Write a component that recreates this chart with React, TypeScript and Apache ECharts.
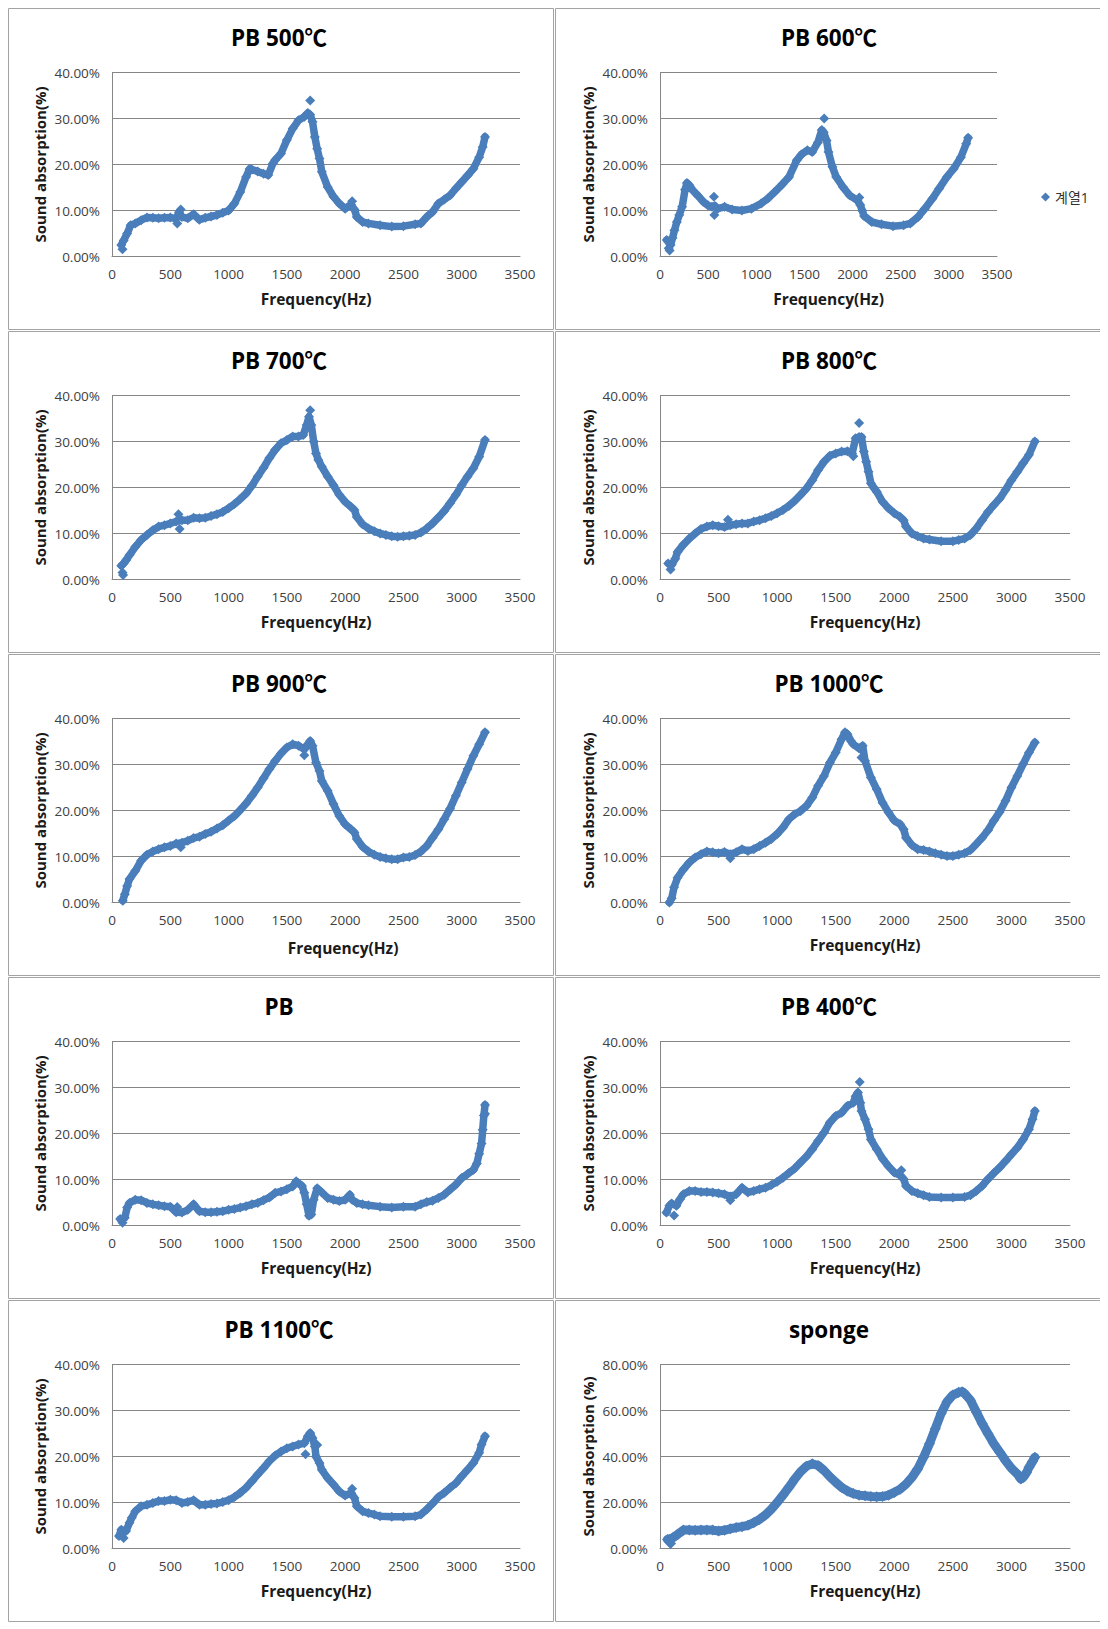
import React, { useEffect, useRef } from "react";
import * as echarts from "echarts";

// ---------- data (Hz, sound absorption %) ----------
const PB500_POINTS = [
  [80, 2.5], [100, 3.5], [130, 5.0], [160, 6.8], [200, 7.2], [250, 7.9], [300, 8.5], [350, 8.4], [400, 8.3], [450, 8.4],
  [500, 8.5], [550, 8.2], [575, 9.6], [600, 8.6], [650, 8.3], [700, 9.2], [750, 8.0], [800, 8.4], [850, 8.7], [900, 9.0],
  [950, 9.5], [1000, 10.0], [1050, 11.5], [1100, 14.0], [1150, 17.3], [1180, 19.0], [1200, 18.9], [1250, 18.5], [1300, 18.0],
  [1340, 17.7], [1380, 20.2], [1400, 21.0], [1450, 22.4], [1500, 25.3], [1550, 27.8], [1600, 29.6], [1650, 30.4], [1680, 31.2],
  [1700, 30.8], [1720, 29.3], [1740, 26.0], [1760, 23.4], [1780, 21.3], [1800, 18.4], [1850, 15.1], [1900, 13.0], [1950, 11.5],
  [2000, 10.4], [2050, 11.3], [2080, 10.2], [2100, 8.6], [2150, 7.5], [2200, 7.2], [2300, 6.8], [2400, 6.5], [2500, 6.6],
  [2600, 7.0], [2650, 7.2], [2700, 8.6], [2750, 9.7], [2800, 11.5], [2850, 12.4], [2900, 13.3], [2950, 14.8], [3000, 16.2],
  [3050, 17.6], [3100, 19.1], [3150, 21.6], [3180, 23.8], [3200, 26.0],
];
const PB500_OUTLIERS = [[90, 1.6], [560, 7.2], [590, 10.2], [1700, 33.9], [2060, 12.0]];

const PB600_POINTS = [
  [70, 3.6], [110, 2.5], [130, 4.0], [150, 5.7], [175, 7.5], [200, 9.0], [230, 10.8], [260, 14.5], [280, 16.0], [300, 15.6],
  [340, 14.4], [390, 13.3], [450, 11.9], [500, 11.1], [540, 10.8], [570, 11.0], [600, 10.4], [670, 10.8], [750, 10.2],
  [850, 10.0], [950, 10.4], [1050, 11.5], [1120, 12.6], [1190, 14.0], [1270, 15.7], [1340, 17.3], [1420, 20.9], [1470, 22.2],
  [1530, 23.1], [1580, 22.7], [1640, 24.8], [1680, 27.5], [1700, 27.0], [1730, 25.2], [1750, 22.7], [1790, 19.5],
  [1830, 17.3], [1900, 15.1], [1970, 13.3], [2050, 12.2], [2080, 11.2], [2100, 10.0], [2120, 8.8], [2200, 7.5], [2300, 7.0],
  [2420, 6.6], [2530, 6.8], [2600, 7.2], [2680, 8.6], [2750, 10.4], [2830, 12.6], [2900, 14.8], [2980, 17.3], [3050, 19.1],
  [3125, 21.6], [3180, 24.5], [3200, 25.8],
];
const PB600_OUTLIERS = [[90, 1.8], [100, 1.3], [560, 13.0], [565, 9.0], [1705, 30.0], [2070, 12.8]];

const PB700_POINTS = [
  [80, 3.0], [100, 3.5], [120, 4.2], [150, 5.3], [200, 7.1], [250, 8.6], [300, 9.7], [350, 10.7], [400, 11.5], [450, 11.8],
  [500, 12.2], [550, 12.6], [600, 12.9], [650, 12.9], [700, 13.4], [750, 13.3], [800, 13.4], [850, 13.8], [900, 14.2],
  [950, 14.7], [1000, 15.5], [1050, 16.4], [1100, 17.5], [1150, 18.7], [1200, 20.4], [1250, 22.4], [1300, 24.3], [1350, 26.4],
  [1400, 28.2], [1450, 29.6], [1500, 30.3], [1550, 31.1], [1600, 31.1], [1640, 31.4], [1670, 33.6], [1690, 35.4], [1710, 33.6],
  [1730, 30.0], [1750, 27.4], [1770, 26.0], [1800, 24.5], [1850, 22.4], [1900, 20.5], [1950, 18.4], [2000, 16.9], [2050, 15.8],
  [2080, 15.1], [2100, 13.6], [2150, 12.0], [2200, 11.1], [2250, 10.5], [2300, 10.0], [2350, 9.7], [2400, 9.4], [2450, 9.3],
  [2500, 9.4], [2550, 9.5], [2600, 9.7], [2650, 10.2], [2700, 11.1], [2750, 12.2], [2800, 13.5], [2850, 14.9], [2900, 16.6],
  [2950, 18.4], [3000, 20.5], [3050, 22.4], [3100, 24.2], [3150, 26.7], [3200, 30.3],
];
const PB700_OUTLIERS = [[90, 1.5], [95, 1.0], [570, 14.2], [580, 11.0], [1700, 36.8]];

const PB800_POINTS = [
  [70, 3.5], [100, 3.2], [130, 4.5], [150, 6.0], [200, 7.6], [250, 8.9], [300, 10.0], [350, 11.0], [400, 11.5], [450, 11.8],
  [500, 11.6], [550, 11.4], [600, 11.8], [650, 12.0], [700, 12.2], [750, 12.2], [800, 12.6], [850, 12.9], [900, 13.3],
  [950, 13.8], [1000, 14.4], [1050, 15.1], [1100, 16.0], [1150, 17.1], [1200, 18.4], [1250, 19.8], [1300, 21.6], [1350, 23.8],
  [1400, 25.6], [1450, 26.9], [1500, 27.4], [1550, 27.8], [1600, 27.9], [1640, 27.4], [1670, 30.7], [1700, 31.0], [1720, 31.0],
  [1740, 27.8], [1760, 25.6], [1780, 23.4], [1800, 20.9], [1830, 19.8], [1850, 19.1], [1900, 16.9], [1950, 15.5], [2000, 14.4],
  [2050, 13.6], [2080, 12.9], [2100, 11.5], [2150, 10.0], [2200, 9.4], [2250, 8.9], [2300, 8.7], [2400, 8.3], [2500, 8.3],
  [2550, 8.6], [2600, 8.9], [2650, 9.7], [2700, 11.1], [2750, 12.9], [2800, 14.7], [2850, 16.2], [2900, 17.6], [2950, 19.5],
  [3000, 21.6], [3050, 23.4], [3100, 25.3], [3150, 27.1], [3200, 30.0],
];
const PB800_OUTLIERS = [[90, 2.2], [580, 13.0], [1650, 26.8], [1700, 34.0]];

const PB900_POINTS = [
  [92, 0.4], [110, 1.8], [130, 3.6], [150, 5.1], [200, 6.9], [250, 9.1], [300, 10.4], [350, 11.1], [400, 11.6], [450, 12.0],
  [500, 12.3], [550, 12.8], [600, 13.0], [650, 13.4], [700, 14.0], [750, 14.3], [800, 14.9], [850, 15.4], [900, 16.1],
  [950, 16.8], [1000, 17.8], [1050, 18.8], [1100, 20.1], [1150, 21.5], [1200, 23.2], [1250, 25.0], [1300, 27.0], [1350, 29.0],
  [1400, 30.8], [1450, 32.4], [1500, 33.7], [1550, 34.4], [1600, 34.1], [1650, 33.3], [1680, 34.4], [1700, 35.1], [1720, 34.1],
  [1750, 30.4], [1780, 28.6], [1800, 26.4], [1850, 24.3], [1900, 21.4], [1950, 18.8], [2000, 17.0], [2050, 15.9], [2080, 15.2],
  [2100, 13.8], [2150, 12.1], [2200, 11.1], [2250, 10.4], [2300, 9.9], [2350, 9.6], [2400, 9.4], [2450, 9.4], [2500, 9.8],
  [2550, 9.9], [2600, 10.3], [2650, 11.1], [2700, 12.3], [2750, 14.1], [2800, 15.9], [2850, 18.1], [2900, 20.4], [2950, 23.2],
  [3000, 26.1], [3050, 29.0], [3100, 31.9], [3150, 34.4], [3200, 37.0],
];
const PB900_OUTLIERS = [[590, 12.0], [1650, 32.0]];

const PB1000_POINTS = [
  [80, 0.0], [100, 0.9], [120, 3.3], [150, 5.4], [200, 7.2], [250, 8.7], [300, 9.8], [350, 10.5], [400, 11.1], [450, 10.9],
  [500, 10.7], [550, 11.0], [600, 10.5], [650, 10.9], [700, 11.6], [750, 11.2], [800, 11.6], [850, 12.3], [900, 13.0],
  [950, 13.8], [1000, 14.9], [1050, 16.3], [1100, 18.1], [1150, 19.2], [1200, 19.9], [1250, 21.0], [1300, 22.8], [1350, 25.4],
  [1400, 27.5], [1450, 30.4], [1500, 32.6], [1550, 35.5], [1580, 37.0], [1600, 36.6], [1630, 35.1], [1650, 34.4], [1700, 33.5],
  [1730, 34.1], [1750, 30.8], [1800, 27.2], [1850, 24.6], [1900, 21.7], [1950, 19.6], [2000, 17.8], [2050, 17.0], [2080, 15.9],
  [2100, 14.1], [2150, 12.5], [2200, 11.6], [2250, 11.4], [2300, 11.1], [2350, 10.7], [2400, 10.4], [2450, 10.1], [2500, 10.1],
  [2550, 10.4], [2600, 10.7], [2650, 11.4], [2700, 12.7], [2750, 14.1], [2800, 15.7], [2850, 17.8], [2900, 19.7], [2950, 22.1],
  [3000, 25.0], [3050, 27.5], [3100, 30.1], [3150, 32.6], [3200, 34.8],
];
const PB1000_OUTLIERS = [[600, 9.6], [1720, 31.5]];

const PB_POINTS = [
  [70, 1.4], [110, 1.7], [130, 3.9], [150, 4.9], [200, 5.6], [250, 5.5], [300, 4.9], [350, 4.6], [400, 4.4], [450, 4.2],
  [500, 4.1], [550, 2.9], [600, 2.8], [650, 3.4], [700, 4.6], [750, 3.1], [800, 2.9], [850, 2.9], [900, 3.0], [950, 3.1],
  [1000, 3.4], [1050, 3.6], [1100, 3.9], [1150, 4.2], [1200, 4.6], [1250, 4.9], [1300, 5.5], [1350, 6.1], [1400, 7.1],
  [1450, 7.4], [1500, 7.9], [1550, 8.5], [1580, 9.6], [1600, 9.2], [1630, 8.6], [1650, 7.1], [1670, 4.6], [1690, 2.1],
  [1710, 2.4], [1730, 5.6], [1760, 8.1], [1800, 7.2], [1850, 6.0], [1900, 5.6], [1950, 5.3], [2000, 5.6], [2040, 6.7],
  [2060, 5.6], [2100, 4.9], [2150, 4.6], [2200, 4.4], [2300, 4.1], [2400, 3.9], [2500, 4.1], [2600, 4.1], [2650, 4.6],
  [2700, 5.1], [2750, 5.4], [2800, 6.0], [2850, 6.7], [2900, 7.8], [2950, 8.9], [3000, 10.3], [3050, 11.2], [3100, 12.1],
  [3130, 13.5], [3150, 15.6], [3170, 17.8], [3180, 20.8], [3190, 23.9], [3200, 26.2],
];
const PB_OUTLIERS = [[90, 0.6], [560, 4.0], [1700, 4.5], [3200, 24.3]];

const PB400_POINTS = [
  [55, 2.8], [80, 4.3], [100, 4.8], [140, 4.3], [170, 5.7], [200, 6.8], [250, 7.5], [300, 7.5], [350, 7.3], [400, 7.3],
  [450, 7.2], [500, 7.0], [550, 6.8], [600, 6.3], [650, 6.8], [700, 8.2], [750, 7.2], [800, 7.5], [850, 7.9], [900, 8.2],
  [950, 8.8], [1000, 9.5], [1050, 10.4], [1100, 11.4], [1150, 12.4], [1200, 13.7], [1250, 15.0], [1300, 16.6], [1350, 18.4],
  [1400, 20.2], [1450, 22.4], [1500, 23.8], [1550, 24.5], [1600, 26.0], [1650, 26.7], [1670, 28.1], [1690, 28.9], [1710, 26.7],
  [1720, 24.9], [1750, 23.1], [1780, 20.9], [1800, 18.7], [1850, 16.6], [1900, 14.5], [1950, 12.9], [2000, 11.5], [2050, 10.9],
  [2080, 10.1], [2100, 8.6], [2150, 7.5], [2200, 7.0], [2250, 6.6], [2300, 6.2], [2400, 6.1], [2500, 6.1], [2600, 6.2],
  [2650, 6.6], [2700, 7.5], [2750, 8.6], [2800, 10.1], [2850, 11.4], [2900, 12.6], [2950, 14.0], [3000, 15.5], [3050, 16.9],
  [3100, 18.7], [3150, 20.9], [3180, 23.1], [3200, 24.9],
];
const PB400_OUTLIERS = [[120, 2.2], [600, 5.5], [1705, 31.2], [2060, 12.0]];

const PB1100_POINTS = [
  [60, 2.7], [80, 4.1], [120, 3.8], [150, 5.6], [170, 6.7], [200, 8.1], [250, 9.2], [300, 9.5], [350, 9.9], [400, 10.3],
  [450, 10.3], [500, 10.6], [550, 10.5], [600, 9.9], [650, 10.1], [700, 10.5], [750, 9.5], [800, 9.5], [850, 9.7], [900, 9.8],
  [950, 10.1], [1000, 10.5], [1050, 11.2], [1100, 12.1], [1150, 13.2], [1200, 14.6], [1250, 16.1], [1300, 17.5], [1350, 19.0],
  [1400, 20.2], [1450, 21.1], [1500, 21.8], [1550, 22.2], [1600, 22.6], [1650, 22.9], [1680, 24.4], [1700, 25.1], [1720, 24.0],
  [1740, 22.2], [1750, 20.0], [1780, 18.6], [1800, 17.1], [1850, 15.3], [1900, 13.9], [1950, 12.4], [2000, 11.5], [2050, 12.1],
  [2080, 11.0], [2100, 9.2], [2150, 8.1], [2200, 7.7], [2250, 7.4], [2300, 7.0], [2400, 6.9], [2500, 6.9], [2600, 7.0],
  [2650, 7.4], [2700, 8.5], [2750, 9.8], [2800, 11.2], [2850, 12.1], [2900, 13.2], [2950, 14.2], [3000, 15.7], [3050, 17.1],
  [3100, 18.6], [3150, 20.8], [3170, 22.6], [3200, 24.4],
];
const PB1100_OUTLIERS = [[100, 2.3], [1660, 20.5], [1760, 22.5], [2060, 13.0]];

const SPONGE_POINTS = [
  [64, 3.9], [110, 4.7], [150, 6.1], [200, 8.0], [250, 8.0], [300, 7.9], [350, 8.0], [400, 8.0], [450, 8.0], [500, 7.6],
  [550, 7.9], [600, 8.6], [650, 9.1], [700, 9.5], [750, 10.1], [800, 11.2], [850, 12.7], [900, 14.6], [950, 17.1], [1000, 20.0],
  [1050, 23.2], [1100, 26.6], [1150, 30.2], [1200, 33.4], [1250, 35.8], [1300, 36.8], [1350, 36.1], [1400, 33.9], [1450, 31.2],
  [1500, 28.8], [1550, 26.6], [1600, 25.0], [1650, 23.9], [1700, 23.2], [1750, 22.9], [1800, 22.6], [1850, 22.5], [1900, 22.6],
  [1950, 23.2], [2000, 24.4], [2050, 25.8], [2100, 28.0], [2150, 30.9], [2200, 34.6], [2250, 39.7], [2300, 45.5], [2350, 52.1],
  [2400, 58.7], [2450, 63.8], [2500, 66.7], [2550, 67.9], [2580, 68.2], [2600, 67.4], [2650, 64.5], [2700, 59.4], [2750, 54.3],
  [2800, 49.9], [2850, 45.5], [2900, 41.9], [2950, 38.2], [3000, 34.9], [3050, 32.4], [3080, 30.2], [3100, 30.9], [3130, 33.1],
  [3150, 35.3], [3180, 37.8], [3200, 39.7],
];
const SPONGE_OUTLIERS = [[90, 2.2]];

const TITLES = ["PB 500℃", "PB 600℃", "PB 700℃", "PB 800℃", "PB 900℃", "PB 1000℃", "PB", "PB 400℃", "PB 1100℃", "sponge"];
const POINTS = [PB500_POINTS, PB600_POINTS, PB700_POINTS, PB800_POINTS, PB900_POINTS, PB1000_POINTS, PB_POINTS, PB400_POINTS, PB1100_POINTS, SPONGE_POINTS];
const OUTLIERS = [PB500_OUTLIERS, PB600_OUTLIERS, PB700_OUTLIERS, PB800_OUTLIERS, PB900_OUTLIERS, PB1000_OUTLIERS, PB_OUTLIERS, PB400_OUTLIERS, PB1100_OUTLIERS, SPONGE_OUTLIERS];
const Y_MAX = [40, 40, 40, 40, 40, 40, 40, 40, 40, 80];
const Y_STEP = [10, 10, 10, 10, 10, 10, 10, 10, 10, 20];
const Y_NAMES = [
  "Sound absorption(%)", "Sound absorption(%)", "Sound absorption(%)", "Sound absorption(%)", "Sound absorption(%)",
  "Sound absorption(%)", "Sound absorption(%)", "Sound absorption(%)", "Sound absorption(%)", "Sound absorption (%)",
];
const X_NAME = "Frequency(Hz)";
const X_MIN = 0;
const X_MAX = 3500;
const X_STEP = 500;
const LEGEND_LABEL = "계열1";

// ---------- styling / layout ----------
const BLUE = "#4a7ebb";
const FONT = "'Open Sans', 'Noto Sans CJK KR', sans-serif";
const PANEL_W = 546;
const PANEL_H = 322;
const LEGEND_PANEL = 1;
const SHIFTED_XNAME_PANEL = 4;

function buildOption() {
  const grid: any[] = [];
  const xAxis: any[] = [];
  const yAxis: any[] = [];
  const series: any[] = [];
  const graphic: any[] = [];

  TITLES.forEach((title, i) => {
    const col = i % 2;
    const row = Math.floor(i / 2);
    const px = col * (PANEL_W + 1);
    const py = row * (PANEL_H + 1);
    const gl = col === 0 ? 104 : 105;
    const gw = i === LEGEND_PANEL ? 337 : col === 0 ? 408 : 410;

    graphic.push({
      type: "rect",
      silent: true,
      z: -10,
      shape: { x: px + 0.5, y: py + 0.5, width: PANEL_W - 1, height: PANEL_H - 1 },
      style: { fill: "#ffffff", stroke: "#a3a3a3", lineWidth: 1 },
    });
    graphic.push({
      type: "text",
      silent: true,
      x: px + (col === 0 ? 271 : 274),
      y: py + 29,
      style: {
        text: title,
        font: `bold 22.5px ${FONT}`,
        fill: "#000000",
        textAlign: "center",
        align: "center",
        textVerticalAlign: "middle",
        verticalAlign: "middle",
      },
    });

    grid.push({ left: px + gl, top: py + 64.5, width: gw, height: 184 });

    const shifted = i === SHIFTED_XNAME_PANEL;
    xAxis.push({
      gridIndex: i,
      type: "value",
      min: X_MIN,
      max: X_MAX,
      interval: X_STEP,
      name: X_NAME,
      nameLocation: "middle",
      nameGap: shifted ? 38 : 35,
      nameTextStyle: {
        fontFamily: FONT,
        fontSize: 15.5,
        fontWeight: "bold",
        color: "#1a1a1a",
        padding: shifted ? [0, 0, 0, 54] : 0,
      },
      axisLine: { show: true, onZero: false, lineStyle: { color: "#868686", width: 1 } },
      axisTick: { show: false },
      axisLabel: {
        fontFamily: FONT,
        fontSize: 13.5,
        color: "#404040",
        margin: 11,
        formatter: (v: number) => String(v),
      },
      splitLine: { show: false },
    });
    yAxis.push({
      gridIndex: i,
      type: "value",
      min: 0,
      max: Y_MAX[i],
      interval: Y_STEP[i],
      name: Y_NAMES[i],
      nameLocation: "middle",
      nameGap: 65,
      nameTextStyle: { fontFamily: FONT, fontSize: 15, fontWeight: "bold", color: "#1a1a1a" },
      axisLine: { show: true, lineStyle: { color: "#868686", width: 1 } },
      axisTick: { show: false },
      axisLabel: {
        fontFamily: FONT,
        fontSize: 13.5,
        color: "#404040",
        margin: 12,
        formatter: (v: number) => v.toFixed(2) + "%",
      },
      splitLine: { show: true, lineStyle: { color: "#868686", width: 1 } },
    });

    series.push({
      type: "line",
      xAxisIndex: i,
      yAxisIndex: i,
      data: POINTS[i],
      showSymbol: false,
      symbol: "none",
      silent: true,
      z: 2,
      lineStyle: { color: BLUE, width: i === 9 ? 9 : 7.5, join: "round", cap: "round" },
    });
    series.push({
      type: "scatter",
      name: i === LEGEND_PANEL ? LEGEND_LABEL : "s" + i,
      xAxisIndex: i,
      yAxisIndex: i,
      data: [...POINTS[i], ...OUTLIERS[i]],
      symbol: "diamond",
      symbolSize: i === 9 ? 11 : 10,
      z: 3,
      itemStyle: { color: BLUE, opacity: 1 },
    });
  });

  return {
    animation: false,
    backgroundColor: "#ffffff",
    textStyle: { fontFamily: FONT },
    grid,
    xAxis,
    yAxis,
    series,
    graphic,
    legend: {
      data: [{ name: LEGEND_LABEL, icon: "diamond" }],
      left: (PANEL_W + 1) + 481,
      top: 177,
      itemWidth: 9,
      itemHeight: 9,
      selectedMode: false,
      textStyle: { fontFamily: FONT, fontSize: 14, color: "#333333" },
    },
  };
}

export default function App() {
  const ref = useRef<HTMLDivElement>(null);
  useEffect(() => {
    if (!ref.current) return;
    const chart = echarts.init(ref.current, undefined, { renderer: "svg" });
    chart.setOption(buildOption() as any);
    return () => chart.dispose();
  }, []);
  return <div ref={ref} style={{ width: 1093, height: 1614 }} />;
}
